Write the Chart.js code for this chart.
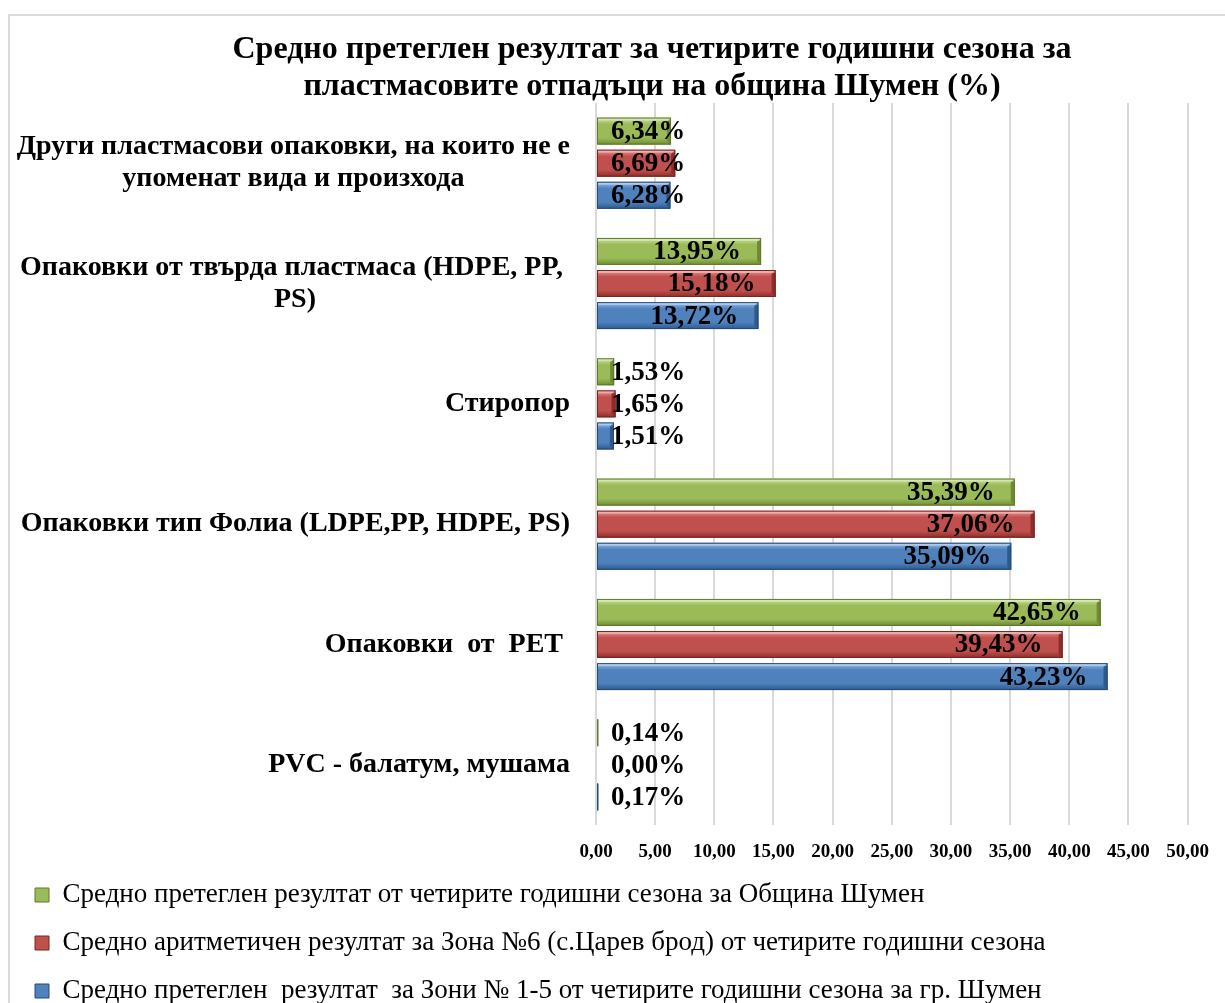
<!DOCTYPE html>
<html><head><meta charset="utf-8">
<script src="https://cdn.jsdelivr.net/npm/chart.js@4.4.0/dist/chart.umd.min.js"></script>
<style>html,body{margin:0;padding:0;background:#fff;overflow:hidden}#wrap{position:relative;width:1225px;height:1003px}</style>
</head><body><div id="wrap"><canvas id="c" width="1225" height="1003"></canvas></div>
<script>
const titleLines = ['Средно претеглен резултат за четирите годишни сезона за', 'пластмасовите отпадъци на община Шумен (%)'];
const categories = [
  ['Други пластмасови опаковки, на които не е', 'упоменат вида и произхода'],
  ['Опаковки от твърда пластмаса (HDPE, PP, ', 'PS)'],
  ['Стиропор'],
  ['Опаковки тип Фолиа (LDPE,PP, HDPE, PS)'],
  ['Опаковки  от  PET '],
  ['PVC - балатум, мушама']
];
const seriesNames = [
  'Средно претеглен резултат от четирите годишни сезона за Община Шумен',
  'Средно аритметичен резултат за Зона №6 (с.Царев брод) от четирите годишни сезона',
  'Средно претеглен  резултат  за Зони № 1-5 от четирите годишни сезона за гр. Шумен'
];
const valuesObshtina = [6.34, 13.95, 1.53, 35.39, 42.65, 0.14];
const valuesZona6 = [6.69, 15.18, 1.65, 37.06, 39.43, 0.00];
const valuesZoni15 = [6.28, 13.72, 1.51, 35.09, 43.23, 0.17];
const xTickValues = [0, 5, 10, 15, 20, 25, 30, 35, 40, 45, 50];

const fmt = v => v.toFixed(2).replace('.', ',');
const palette = [
  {base:'#9bbb59', light:'#cfe3a0', dark:'#6f8a32', edge:'#5f7a2a'},
  {base:'#c0504d', light:'#ec9a98', dark:'#8f2d2a', edge:'#7a2422'},
  {base:'#4f81bd', light:'#9cc0ec', dark:'#2d5a8e', edge:'#244b78'}
];
const SERIF = '"Liberation Serif", "Times New Roman", serif';

const deco = {
  id: 'deco',
  beforeDraw(chart) {
    const ctx = chart.ctx;
    ctx.save();
    ctx.strokeStyle = '#d9d9d9';
    ctx.lineWidth = 2;
    ctx.strokeRect(9, 15, 1400, 1200);
    ctx.fillStyle = '#000';
    ctx.font = 'bold 32px ' + SERIF;
    ctx.textAlign = 'center';
    ctx.textBaseline = 'middle';
    ctx.fillText(titleLines[0], 652, 50);
    ctx.fillText(titleLines[1], 652, 87);
    ctx.restore();
  },
  afterDatasetsDraw(chart) {
    const ctx = chart.ctx;
    ctx.save();
    chart.data.datasets.forEach((ds, di) => {
      const meta = chart.getDatasetMeta(di);
      const pal = palette[di];
      meta.data.forEach((el, i) => {
        const p = el.getProps(['x', 'y', 'base', 'height'], true);
        const left = Math.min(p.base, p.x), w = Math.abs(p.x - p.base);
        const top = p.y - p.height / 2, h = p.height;
        if (w > 0.5) {
          const g = ctx.createLinearGradient(0, top, 0, top + h);
          g.addColorStop(0, pal.light);
          g.addColorStop(0.25, pal.base);
          g.addColorStop(0.75, pal.base);
          g.addColorStop(1, pal.dark);
          ctx.fillStyle = g;
          ctx.fillRect(left, top, w, h);
          if (w > 6) {
            ctx.fillStyle = pal.dark;
            ctx.beginPath();
            ctx.moveTo(left + w, top);
            ctx.lineTo(left + w, top + h);
            ctx.lineTo(left + w - 4, top + h - 4);
            ctx.lineTo(left + w - 4, top + 4);
            ctx.closePath();
            ctx.fill();
            ctx.fillStyle = 'rgba(255,255,255,0.35)';
            ctx.fillRect(left, top, w, 3);
          }
          ctx.strokeStyle = pal.edge;
          ctx.lineWidth = 1;
          ctx.strokeRect(left + 0.5, top + 0.5, Math.max(w - 1, 0.5), h - 1);
        }
      });
    });
    ctx.font = 'bold 27px ' + SERIF;
    ctx.fillStyle = '#000';
    ctx.textAlign = 'left';
    ctx.textBaseline = 'middle';
    chart.data.datasets.forEach((ds, di) => {
      const meta = chart.getDatasetMeta(di);
      meta.data.forEach((el, i) => {
        const p = el.getProps(['x', 'y'], true);
        const txt = fmt(ds.data[i]) + '%';
        const tw = ctx.measureText(txt).width;
        const tx = Math.max(p.x - 20 - tw, 611);
        ctx.fillText(txt, tx, p.y + 1);
      });
    });
    ctx.restore();
  },
  afterDraw(chart) {
    const ctx = chart.ctx;
    const ys = chart.scales.y;
    ctx.save();
    ctx.font = 'bold 28px ' + SERIF;
    ctx.fillStyle = '#000';
    ctx.textAlign = 'center';
    ctx.textBaseline = 'middle';
    const right = 570, lh = 32;
    categories.forEach((lines, i) => {
      const cy = ys.getPixelForTick(i);
      const mw = Math.max(...lines.map(l => ctx.measureText(l).width));
      const cx = right - mw / 2;
      lines.forEach((l, k) => {
        ctx.fillText(l, cx, cy + (k - (lines.length - 1) / 2) * lh);
      });
    });
    ctx.restore();
  }
};

const seriesValues = [valuesObshtina, valuesZona6, valuesZoni15];
new Chart(document.getElementById('c'), {
  type: 'bar',
  data: {
    labels: categories,
    datasets: seriesValues.map((vals, di) => ({
      label: seriesNames[di],
      data: vals,
      backgroundColor: palette[di].base,
      borderWidth: 0,
      categoryPercentage: 0.8,
      barPercentage: 0.84
    }))
  },
  options: {
    indexAxis: 'y',
    responsive: false,
    animation: false,
    layout: {padding: {top: 103, left: 14, right: 29, bottom: -11.5}},
    scales: {
      x: {
        min: 0, max: 50,
        afterBuildTicks: s => { s.ticks = xTickValues.map(v => ({value: v})); },
        afterFit: s => { s.height = 35.5; },
        grid: {color: '#d9d9d9', lineWidth: 2, drawTicks: false},
        border: {display: false},
        ticks: {
          padding: 16,
          color: '#000',
          font: {family: SERIF, size: 19, weight: 'bold'},
          callback: v => fmt(v),
          maxRotation: 0, autoSkip: false
        }
      },
      y: {
        afterFit: s => { s.width = 582; },
        grid: {display: false},
        border: {display: false},
        ticks: {display: false}
      }
    },
    plugins: {
      legend: {
        position: 'bottom',
        align: 'start',
        labels: {
          boxWidth: 14, boxHeight: 14, padding: 21,
          color: '#000',
          font: {family: SERIF, size: 27},
          generateLabels: chart => chart.data.datasets.map((ds, i) => ({
            text: ds.label, fillStyle: palette[i].base, strokeStyle: palette[i].edge,
            lineWidth: 1, datasetIndex: i, hidden: false
          }))
        }
      },
      title: {display: false},
      tooltip: {enabled: false}
    }
  },
  plugins: [deco]
});
</script>
</body></html>
